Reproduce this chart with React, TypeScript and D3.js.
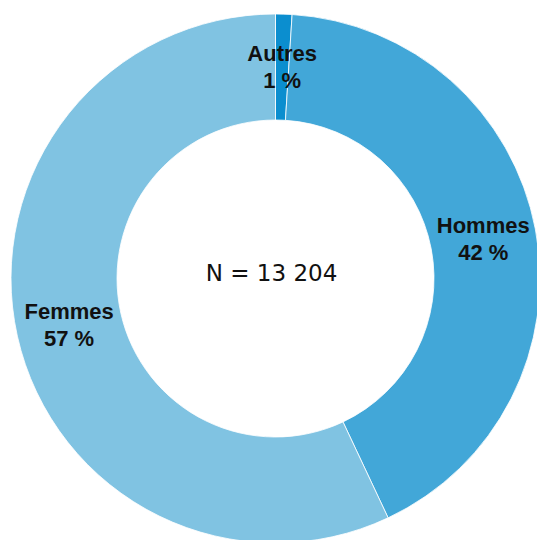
import React from 'react';
import * as d3 from 'd3';

const categories = ['Autres', 'Hommes', 'Femmes'];
const shares = [1, 42, 57];
const colors = ['#0b8ecf', '#42a7d8', '#80c3e2'];
const total = '13 204';

const width = 537;
const height = 540;

export default function App() {
  const cx = 275.5;
  const cy = 278.5;
  const outer = 264.5;
  const inner = 158.5;

  const slices = d3
    .pie<number>()
    .sort(null)
    .value(d => d)(shares);

  const arc = d3.arc<d3.PieArcDatum<number>>().innerRadius(inner).outerRadius(outer);

  return (
    <svg
      width={width}
      height={height}
      style={{ position: 'absolute', left: 0, top: 0, background: '#fff' }}
    >
      <g transform={`translate(${cx},${cy})`}>
        {slices.map((s, i) => (
          <path key={categories[i]} d={arc(s) || ''} fill={colors[i]} stroke="#fff" strokeWidth={0.8} />
        ))}
        {slices.map((s, i) => {
          const [x, y] = arc.centroid(s);
          return (
            <text
              key={'l' + i}
              x={x}
              y={y}
              textAnchor="middle"
              fontFamily="'Liberation Sans', Arial, sans-serif"
              fontWeight="bold"
              fontSize={22}
              fill="#111"
            >
              <tspan x={x} y={y - 6}>{categories[i]}</tspan>
              <tspan x={x} y={y + 21}>{shares[i]} %</tspan>
            </text>
          );
        })}
        <text
          x={-4}
          y={2.5}
          textAnchor="middle"
          fontFamily="'DejaVu Sans', sans-serif"
          fontSize={23}
          fill="#111"
        >
          N = {total}
        </text>
      </g>
    </svg>
  );
}
